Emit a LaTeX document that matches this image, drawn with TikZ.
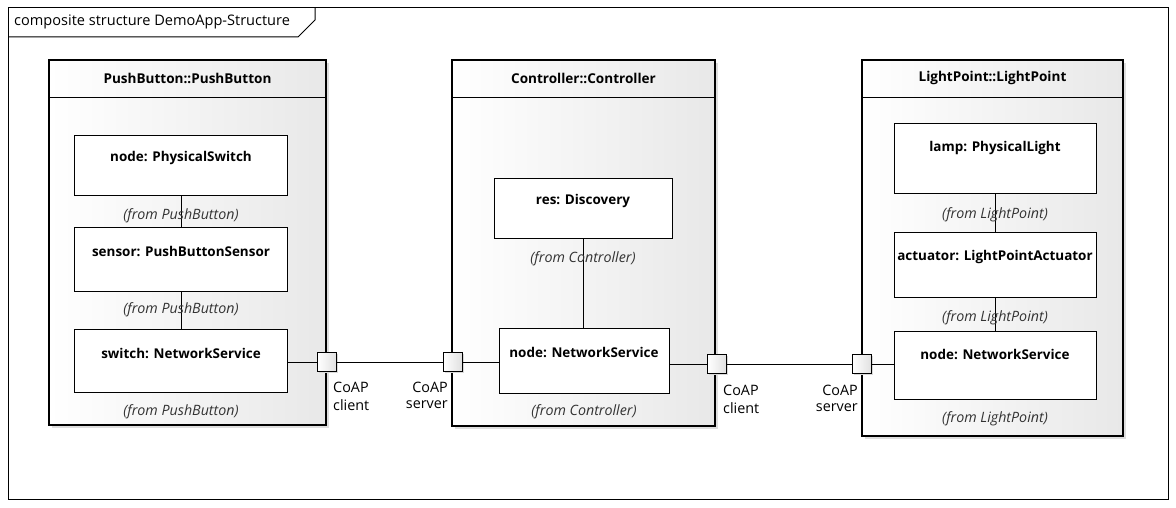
\documentclass[tikz,border=0pt]{standalone}
\usepackage{fontspec}
\setmainfont{Open Sans}
\usetikzlibrary{shadows}
\begin{document}
\begin{tikzpicture}[x=1bp,y=-1bp,
  every node/.style={font=\fontsize{14.6}{17}\selectfont, inner sep=0pt},
  frameline/.style={draw=black, line width=1bp},
  block/.style={draw=black, line width=1.2bp, left color=white, right color=black!9,
    drop shadow={shadow xshift=3bp, shadow yshift=-3bp, fill=black!13, opacity=1}},
  part/.style={draw=black, fill=white, line width=1bp},
  port/.style={draw=black, line width=1bp, minimum size=19bp, left color=white, right color=black!12,
    drop shadow={shadow xshift=1.5bp, shadow yshift=-1.5bp, fill=black!15, opacity=1}},
  conn/.style={line width=1bp},
  head/.style={font=\fontsize{13.6}{16}\selectfont\bfseries},
  pname/.style={font=\fontsize{13.5}{16}\selectfont\bfseries},
  from/.style={font=\fontsize{14.3}{17}\selectfont\itshape, text=black!80},
  plabel/.style={font=\fontsize{14.4}{17}\selectfont}
]
\useasboundingbox (0,0) rectangle (1176,508);
% frame
\draw[frameline] (8,8) rectangle (1168,499);
\coordinate (t1) at (8,37);
\coordinate (t2) at (298,37);
\coordinate (t3) at (315,20);
\coordinate (t4) at (315,8);
\draw[frameline] (t1) -- (t2) -- (t3) -- (t4);
\node[anchor=west] (title) at (14,22) {composite structure DemoApp-Structure};

% blocks
\node[block, minimum width=277bp, minimum height=365bp] (pb) at (187.5,242.5) {};
\node[block, minimum width=263bp, minimum height=366bp] (ct) at (583.5,243) {};
\node[block, minimum width=261bp, minimum height=376bp] (lp) at (992.5,248) {};
\foreach \b in {pb,ct,lp}{
  \draw[conn] ([yshift=-38bp]\b.north west) -- ([yshift=-38bp]\b.north east);
}
\node[head] (pbh) at ([yshift=-19bp]pb.north) {PushButton::PushButton};
\node[head] (cth) at ([yshift=-19bp]ct.north) {Controller::Controller};
\node[head] (lph) at ([yshift=-19bp]lp.north) {LightPoint::LightPoint};

% parts PushButton
\node[part, minimum width=212bp, minimum height=60bp] (ps) at (181,166) {};
\node[part, minimum width=212bp, minimum height=64bp] (sen) at (181,260) {};
\node[part, minimum width=212bp, minimum height=62bp] (sw) at (181,361) {};
% parts Controller
\node[part, minimum width=178bp, minimum height=60bp] (res) at (583,209) {};
\node[part, minimum width=170bp, minimum height=64bp] (cn) at (584,361) {};
% parts LightPoint
\node[part, minimum width=202bp, minimum height=70bp] (lamp) at (995,159) {};
\node[part, minimum width=202bp, minimum height=65bp] (act) at (995,265.5) {};
\node[part, minimum width=202bp, minimum height=67bp] (ln) at (995,365.5) {};

% part names
\node[pname] (psn) at ([yshift=-23bp]ps.north) {node: PhysicalSwitch};
\node[pname] (senn) at ([yshift=-24bp]sen.north) {sensor: PushButtonSensor};
\node[pname] (swn) at ([yshift=-24bp]sw.north) {switch: NetworkService};
\node[pname] (resn) at ([yshift=-23bp]res.north) {res: Discovery};
\node[pname] (cnn) at ([yshift=-24bp]cn.north) {node: NetworkService};
\node[pname] (lampn) at ([yshift=-25bp]lamp.north) {lamp: PhysicalLight};
\node[pname] (actn) at ([yshift=-25bp]act.north) {actuator: LightPointActuator};
\node[pname] (lnn) at ([yshift=-23bp]ln.north) {node: NetworkService};

% connectors inside
\draw[conn] (ps) -- (sen);
\draw[conn] (sen) -- (sw);
\draw[conn] (res.south) -- (res.south |- cn.north);
\draw[conn] (lamp) -- (act);
\draw[conn] (act) -- (ln);

% from labels
\node[from] (f1) at ([yshift=-19bp]ps.south) {(from PushButton)};
\node[from] (f2) at ([yshift=-17bp]sen.south) {(from PushButton)};
\node[from] (f3) at ([yshift=-19bp]sw.south) {(from PushButton)};
\node[from] (f4) at ([yshift=-19bp]res.south) {(from Controller)};
\node[from] (f5) at ([yshift=-18bp]cn.south) {(from Controller)};
\node[from] (f6) at ([yshift=-20bp]lamp.south) {(from LightPoint)};
\node[from] (f7) at ([yshift=-19bp]act.south) {(from LightPoint)};
\node[from] (f8) at ([yshift=-19bp]ln.south) {(from LightPoint)};

% ports
\node[port] (p1) at (327,362.5) {};
\node[port] (p2) at (452.5,362.5) {};
\node[port] (p3) at (717,364.5) {};
\node[port] (p4) at (862,364.5) {};

\draw[conn] (sw.east |- p1) -- (p1);
\draw[conn] (p1) -- (p2);
\draw[conn] (p2) -- (cn.west |- p2);
\draw[conn] (cn.east |- p3) -- (p3);
\draw[conn] (p3) -- (p4);
\draw[conn] (p4) -- (ln.west |- p4);

% port labels
\node[plabel, anchor=west] (l1a) at (333,387) {CoAP};
\node[plabel, anchor=west] (l1b) at (333,405) {client};
\node[plabel, anchor=east] (l2a) at (448,387) {CoAP};
\node[plabel, anchor=east] (l2b) at (448,405) {server};
\node[plabel, anchor=west] (l3a) at (723,390) {CoAP};
\node[plabel, anchor=west] (l3b) at (723,408) {client};
\node[plabel, anchor=east] (l4a) at (858,390) {CoAP};
\node[plabel, anchor=east] (l4b) at (858,408) {server};
\end{tikzpicture}
\end{document}
